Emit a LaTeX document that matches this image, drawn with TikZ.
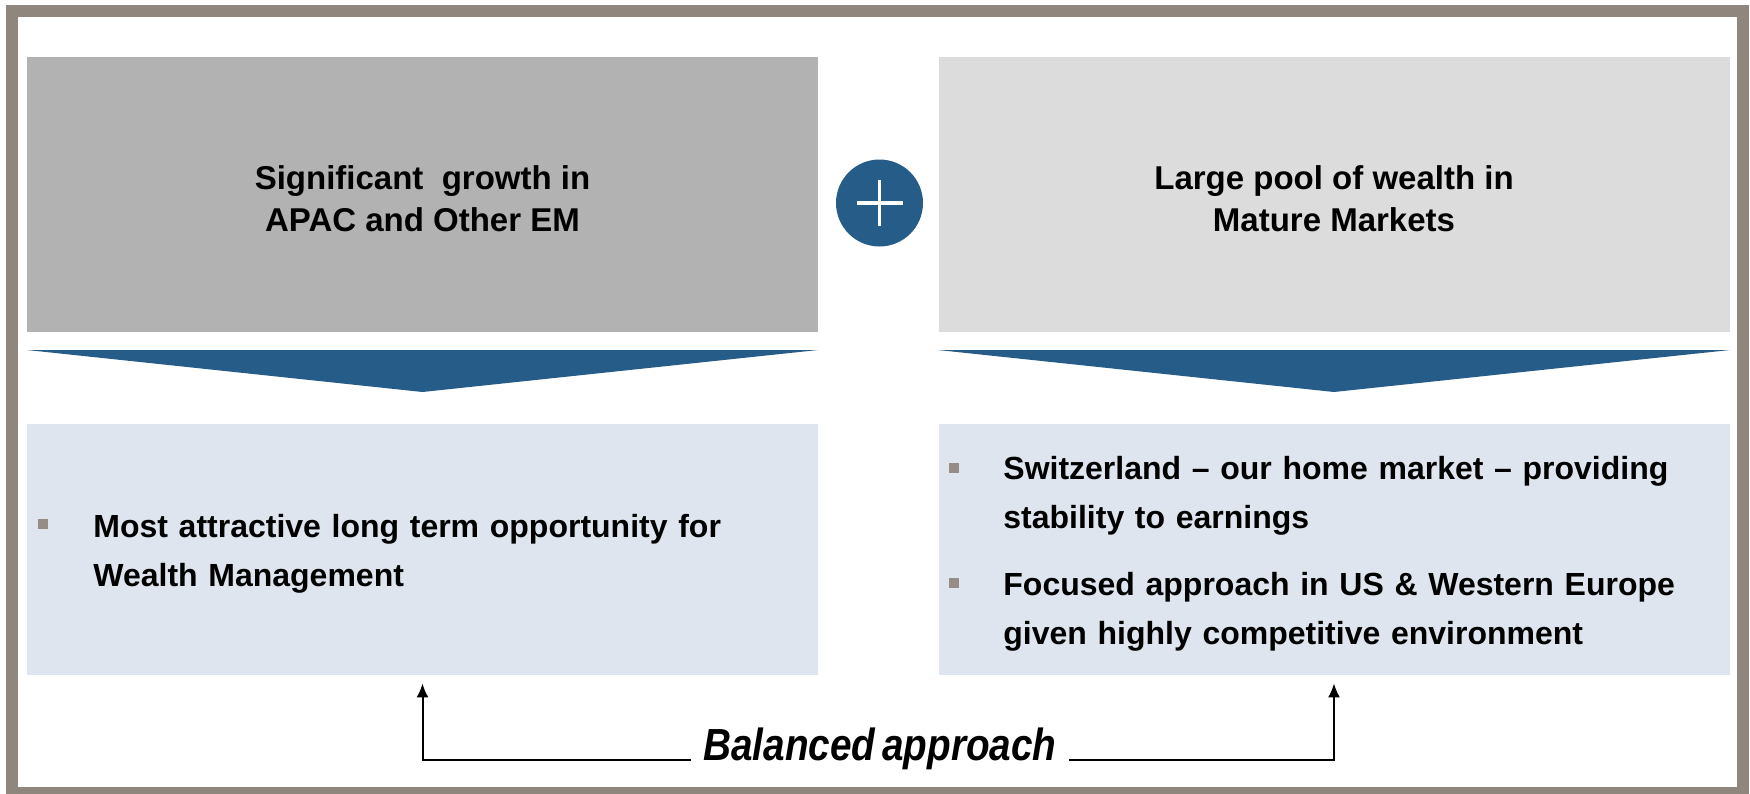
\documentclass[tikz,border=0pt]{standalone}
\usepackage{fontspec}
\setmainfont{Liberation Sans}
\newfontfamily\balfont[FakeStretch=0.86]{Liberation Sans}
\usetikzlibrary{arrows.meta}

\definecolor{framegray}{RGB}{143,134,125}
\definecolor{emgray}{RGB}{178,178,178}
\definecolor{maturegray}{RGB}{220,220,220}
\definecolor{infoblue}{RGB}{223,229,238}
\definecolor{plusblue}{RGB}{37,92,136}
\definecolor{bulletgray}{RGB}{150,141,134}

\begin{document}
\begin{tikzpicture}[x=0.5pt,y=-0.5pt,
  topbox/.style={minimum width=395.5pt, minimum height=137.5pt, inner sep=0pt},
  infobox/.style={fill=infoblue, minimum width=395.5pt, minimum height=125.5pt, inner sep=0pt},
  title/.style={align=center, inner sep=0pt, font=\bfseries\fontsize{16.5}{21}\selectfont},
  item/.style={anchor=base west, text width=365pt, align=left, inner sep=0pt, font=\bfseries\fontsize{16}{24.5}\selectfont},
  bulletsq/.style={fill=bulletgray, minimum size=5pt, inner sep=0pt}]

\useasboundingbox (0,0) rectangle (1750,793);
\draw[framegray, line width=6pt] (12,11) rectangle (1743,793);

\node[topbox, fill=emgray] (growth) at (422.5,194.5) {};
\node[topbox, fill=maturegray] (mature) at (1334,194.5) {};
\node[title] (growthtxt) at (422.5,199) {Significant\ \ growth in\\APAC and Other EM};
\node[title] (maturetxt) at (1334,199) {Large pool of wealth in\\Mature Markets};

\node[circle, fill=plusblue, minimum size=43.5pt, inner sep=0pt] (plus) at (879.5,203) {};
\draw[white, line width=1.8pt] ([xshift=-11.5pt]plus.center) -- ([xshift=11.5pt]plus.center)
  ([yshift=-11.5pt]plus.center) -- ([yshift=11.5pt]plus.center);

\fill[plusblue] (27,350) -- (818,350) -- (422.5,392) -- cycle;
\fill[plusblue] (938,350) -- (1730,350) -- (1334,392) -- cycle;

\node[infobox] (leftinfo) at (422.5,549.5) {};
\node[infobox] (rightinfo) at (1334,549.5) {};

\node[bulletsq] (b1) at (42.5,524) {};
\node[item] (t1) at (93,537) {Most attractive long term opportunity for\\Wealth Management};

\node[bulletsq] (b2) at (953.5,468) {};
\node[item] (t2) at (1003,479) {Switzerland -- our home market -- providing\\stability to earnings};
\node[bulletsq] (b3) at (953.5,583) {};
\node[item] (t3) at (1003,595) {Focused approach in US \& Western Europe\\given highly competitive environment};

\node[anchor=base, inner xsep=6pt, inner ysep=0pt,
  font=\balfont\bfseries\itshape\fontsize{22.5}{26}\selectfont] (balance) at (880,760) {Balanced\hspace{-2pt} approach};
\draw[-{Latex[length=7pt,width=6pt]}, line width=1pt, shorten >=4pt] (balance.base west) -| (leftinfo.south);
\draw[-{Latex[length=7pt,width=6pt]}, line width=1pt, shorten >=4pt] (balance.base east) -| (rightinfo.south);

\end{tikzpicture}
\end{document}
